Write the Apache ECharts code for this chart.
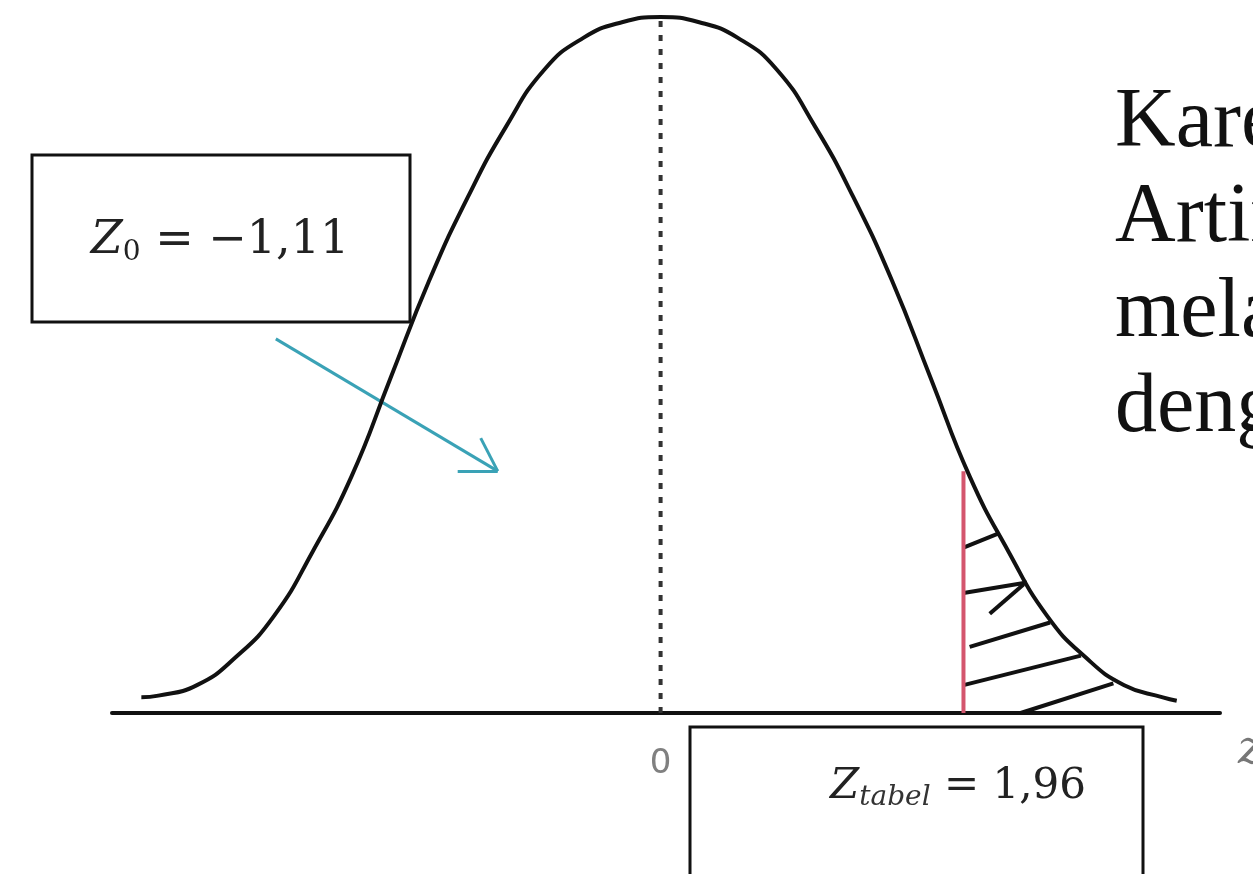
<!DOCTYPE html>
<html>
<head>
<meta charset="utf-8">
<script src="https://cdn.jsdelivr.net/npm/echarts@6/dist/echarts.min.js"></script>
<style>
  html, body { margin: 0; padding: 0; background: #fff; }
  #main { width: 1253px; height: 874px; }
</style>
</head>
<body>
<div id="main"></div>
<script>
// kurva normal (z, kepadatan)
var curveX = [-3.36, -3.25, -3.0, -2.75, -2.5, -2.25, -2.0, -1.75, -1.5, -1.25, -1.0, -0.75, -0.5, -0.25, 0,
              0.25, 0.5, 0.75, 1.0, 1.25, 1.5, 1.75, 2.0, 2.25, 2.5, 2.75, 3.0, 3.25, 3.34];
var curveY = [0.009, 0.010, 0.016, 0.032, 0.056, 0.093, 0.136, 0.192, 0.248, 0.296, 0.337, 0.370, 0.388, 0.397, 0.400,
              0.397, 0.388, 0.370, 0.337, 0.296, 0.248, 0.192, 0.136, 0.093, 0.056, 0.032, 0.016, 0.009, 0.007];
// nilai kritis
var zTabel = 1.96;
var zTabelTop = 0.139;
// arsiran daerah tolak (ujung awal dan akhir tiap garis)
var hatchStart = [[1.96, 0.095], [1.96, 0.069], [2.13, 0.057], [2.00, 0.038], [1.96, 0.016], [2.33, 0.000]];
var hatchEnd = [[2.18, 0.103], [2.37, 0.075], [2.35, 0.074], [2.52, 0.052], [2.72, 0.033], [2.93, 0.017]];
// panah dari kotak Z0
var arrowStart = [-2.49, 0.215];
var arrowTip = [-1.054, 0.139];
var arrowBarbs = [[-1.164, 0.158], [-1.313, 0.139]];
// label sumbu
var xTickLabels = [0];

var curveData = [];
for (var i = 0; i < curveX.length; i++) {
    curveData.push([curveX[i], curveY[i]]);
}
var hatchData = [];
for (var j = 0; j < hatchStart.length; j++) {
    hatchData.push({ coords: [hatchStart[j], hatchEnd[j]] });
}
var arrowData = [{ coords: [arrowStart, arrowTip] }];
for (var k = 0; k < arrowBarbs.length; k++) {
    arrowData.push({ coords: [arrowTip, arrowBarbs[k]] });
}

var myChart = echarts.init(document.getElementById('main'));
var option = {
    animation: false,
    backgroundColor: '#fff',
    grid: { left: 112, right: 33, top: 17, bottom: 161 },
    xAxis: {
        type: 'value',
        min: -3.55,
        max: 3.62,
        splitLine: { show: false },
        axisTick: { show: false },
        axisLine: { lineStyle: { color: '#111', width: 4 } },
        axisLabel: {
            customValues: xTickLabels,
            color: '#808080',
            fontSize: 34,
            fontFamily: 'DejaVu Sans',
            margin: 34
        }
    },
    yAxis: {
        type: 'value',
        min: 0,
        max: 0.4,
        show: false
    },
    series: [
        {
            // garis titik-titik di tengah
            type: 'line',
            data: [[0, 0], [0, 0.4]],
            symbol: 'none',
            silent: true,
            lineStyle: { color: '#333', width: 4, type: [6, 8] }
        },
        {
            // garis merah z tabel
            type: 'line',
            data: [[zTabel, 0], [zTabel, zTabelTop]],
            symbol: 'none',
            silent: true,
            lineStyle: { color: '#d4566e', width: 4 }
        },
        {
            type: 'lines',
            coordinateSystem: 'cartesian2d',
            data: hatchData,
            lineStyle: { color: '#111', width: 4, opacity: 1 }
        },
        {
            type: 'lines',
            coordinateSystem: 'cartesian2d',
            data: arrowData,
            lineStyle: { color: '#3aa2b6', width: 3, opacity: 1 }
        },
        {
            // kurva normal
            type: 'line',
            data: curveData,
            smooth: 0.5,
            symbol: 'none',
            silent: true,
            lineStyle: { color: '#111', width: 4 }
        }
    ],
    graphic: [
        {
            type: 'rect',
            shape: { x: 32, y: 155, width: 378, height: 167 },
            style: { fill: '#fff', stroke: '#111', lineWidth: 3 },
            z: 10
        },
        {
            type: 'text',
            x: 220, y: 241,
            style: {
                text: '{z|Z}{s|0}{n| = −1,11}',
                align: 'center',
                verticalAlign: 'middle',
                rich: {
                    z: { fontFamily: 'DejaVu Serif', fontStyle: 'italic', fontSize: 46, fill: '#222' },
                    s: { fontFamily: 'DejaVu Serif', fontSize: 28, fill: '#222', padding: [24, 0, 0, 0] },
                    n: { fontFamily: 'DejaVu Serif', fontSize: 46, fill: '#222' }
                }
            },
            z: 11
        },
        {
            type: 'rect',
            shape: { x: 690, y: 727, width: 453, height: 170 },
            style: { fill: '#fff', stroke: '#111', lineWidth: 3 },
            z: 10
        },
        {
            type: 'text',
            x: 958, y: 787,
            style: {
                text: '{z|Z}{s|tabel}{n| = 1,96}',
                align: 'center',
                verticalAlign: 'middle',
                rich: {
                    z: { fontFamily: 'DejaVu Serif', fontStyle: 'italic', fontSize: 42, fill: '#222' },
                    s: { fontFamily: 'DejaVu Serif', fontStyle: 'italic', fontSize: 28, fill: '#333', padding: [22, 0, 0, 0] },
                    n: { fontFamily: 'DejaVu Serif', fontSize: 42, fill: '#222' }
                }
            },
            z: 11
        },
        {
            type: 'text',
            x: 1238, y: 728,
            style: { text: 'z', fontFamily: 'DejaVu Serif', fontStyle: 'italic', fontSize: 46, fill: '#777' }
        },
        {
            // teks di kanan (terpotong oleh tepi gambar)
            type: 'text',
            x: 1115, y: 76,
            style: {
                text: 'Karena\nArtinya\nmelakukan\ndengan',
                fontFamily: 'Liberation Serif',
                fontSize: 84,
                lineHeight: 95,
                fill: '#111'
            }
        }
    ]
};
myChart.setOption(option);
</script>
</body>
</html>
